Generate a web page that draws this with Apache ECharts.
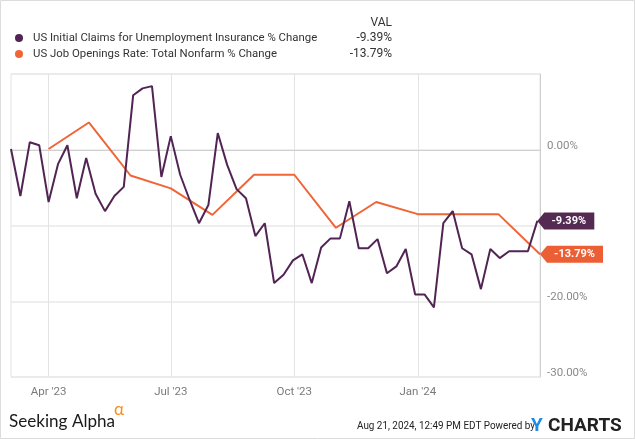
<!DOCTYPE html>
<html>
<head>
<meta charset="utf-8">
<script src="https://cdn.jsdelivr.net/npm/echarts@6/dist/echarts.min.js"></script>
<style>html,body{margin:0;padding:0;background:#fff}#c{width:635px;height:439px}</style>
</head>
<body>
<div id="c"></div>
<script>
const claimsName = 'US Initial Claims for Unemployment Insurance % Change';
const openingsName = 'US Job Openings Rate: Total Nonfarm % Change';

const claimsDates = [
 '2023-03-04','2023-03-11','2023-03-18','2023-03-25',
 '2023-04-01','2023-04-08','2023-04-15','2023-04-22','2023-04-29',
 '2023-05-06','2023-05-13','2023-05-20','2023-05-27',
 '2023-06-03','2023-06-10','2023-06-17','2023-06-24',
 '2023-07-01','2023-07-08','2023-07-15','2023-07-22','2023-07-29',
 '2023-08-05','2023-08-12','2023-08-19','2023-08-26',
 '2023-09-02','2023-09-09','2023-09-16','2023-09-23','2023-09-30',
 '2023-10-07','2023-10-14','2023-10-21','2023-10-28',
 '2023-11-04','2023-11-11','2023-11-18','2023-11-25',
 '2023-12-02','2023-12-09','2023-12-16','2023-12-23','2023-12-30',
 '2024-01-06','2024-01-13','2024-01-20','2024-01-27',
 '2024-02-03','2024-02-10','2024-02-17','2024-02-24',
 '2024-03-02','2024-03-09','2024-03-16','2024-03-23','2024-03-30'
];
const claimsValues = [
 0.1, -6.1, 1.0, 0.6,
 -6.9, -1.9, 0.6, -6.4, -1.1,
 -5.8, -8.1, -6.1, -4.9,
 7.2, 8.1, 8.4, -3.6,
 1.8, -3.3, -6.6, -9.7, -7.3,
 2.2, -2.0, -5.2, -6.4,
 -11.4, -9.7, -17.6, -16.5, -14.6,
 -13.8, -17.6, -12.9, -11.7,
 -11.7, -6.8, -13.0, -13.0,
 -11.8, -16.3, -15.4, -13.1, -19.1,
 -19.1, -20.8, -9.7, -8.1,
 -13.0, -13.8, -18.4, -13.1,
 -14.3, -13.4, -13.4, -13.4, -9.39
];

const openingsDates = [
 '2023-04-01','2023-05-01','2023-06-01','2023-07-01','2023-08-01','2023-09-01',
 '2023-10-01','2023-11-01','2023-12-01','2024-01-01','2024-02-01','2024-03-01','2024-04-01'
];
const openingsValues = [0.1, 3.6, -3.4, -5.1, -8.6, -3.3, -3.3, -10.3, -6.9, -8.5, -8.5, -8.5, -13.79];

const xTickDates = ['2023-04-01','2023-07-01','2023-10-01','2024-01-01'];
const xTickLabels = ["Apr '23", "Jul '23", "Oct '23", "Jan '24"];
const xRange = ['2023-03-04', '2024-04-01'];
const yTicks = [10, 0, -10, -20, -30];
const yTickLabels = ['', '0.00%', '', '-20.00%', '-30.00%'];

const claimsColor = '#512453';
const openingsColor = '#ef6536';

const ts = d => Date.UTC(+d.slice(0, 4), +d.slice(5, 7) - 1, +d.slice(8, 10));
const tickTs = xTickDates.map(ts);

const chart = echarts.init(document.getElementById('c'), null, {renderer: 'canvas'});

function tag(dates, values, color, w) {
  const n = values.length - 1;
  return {
    symbol: 'path://M0,8.5L7,0L' + w + ',0L' + w + ',17L7,17Z',
    symbolSize: [w, 17],
    symbolOffset: [w / 2, 0],
    silent: true,
    itemStyle: {color: color},
    label: {
      show: true, position: 'inside', offset: [3, 0],
      color: '#fff', fontWeight: 'bold', fontSize: 11, fontFamily: 'Roboto',
      formatter: p => p.value.toFixed(2) + '%'
    },
    data: [{coord: [ts(dates[n]), values[n]], value: values[n]}]
  };
}

const option = {
  animation: false,
  backgroundColor: '#fff',
  textStyle: {fontFamily: 'Roboto'},
  grid: {left: 11, right: 95, top: 74, bottom: 62, show: true, borderColor: '#e3e3e3', borderWidth: 1},
  legend: {
    left: 15, top: 31, orient: 'vertical', padding: 0, itemGap: 2,
    itemWidth: 10, itemHeight: 8, icon: 'circle', selectedMode: false,
    textStyle: {fontSize: 11.4, color: '#333', padding: [0, 0, 0, 4], fontFamily: 'Roboto', lineHeight: 14},
    data: [claimsName, openingsName]
  },
  xAxis: {
    type: 'value',
    min: ts(xRange[0]), max: ts(xRange[1]),
    axisLine: {show: true, lineStyle: {color: '#d0d0d0'}},
    axisTick: {show: false, customValues: tickTs},
    axisLabel: {
      customValues: tickTs, color: '#7a7a7a', fontSize: 11.5, margin: 9,
      showMinLabel: true, showMaxLabel: true,
      formatter: v => { const i = tickTs.indexOf(v); return i >= 0 ? xTickLabels[i] : ''; }
    },
    splitLine: {show: true, lineStyle: {color: '#e3e3e3', width: 1}}
  },
  yAxis: {
    type: 'value', position: 'right',
    min: -30, max: 10, interval: 10,
    axisLine: {show: true, lineStyle: {color: '#cfcfcf'}},
    axisTick: {show: false},
    axisLabel: {
      color: '#8a8a8a', fontSize: 11.5, margin: 7, verticalAlign: 'bottom', lineHeight: 8,
      formatter: v => { const i = yTicks.indexOf(v); return i >= 0 ? yTickLabels[i] : ''; }
    },
    splitLine: {show: true, lineStyle: {color: '#e8e8e8', width: 1.5}}
  },
  series: [
    {
      name: claimsName, type: 'line', showSymbol: false, z: 3,
      itemStyle: {color: claimsColor},
      lineStyle: {color: claimsColor, width: 2},
      data: claimsDates.map((d, i) => [ts(d), claimsValues[i]]),
      markPoint: tag(claimsDates, claimsValues, '#552a52', 57)
    },
    {
      name: openingsName, type: 'line', showSymbol: false, z: 2,
      itemStyle: {color: openingsColor},
      lineStyle: {color: openingsColor, width: 2},
      data: openingsDates.map((d, i) => [ts(d), openingsValues[i]]),
      markPoint: tag(openingsDates, openingsValues, '#ec5f34', 63)
    }
  ],
  graphic: [
    {type: 'rect', shape: {x: 0.5, y: 0.5, width: 634, height: 438}, style: {fill: 'none', stroke: '#dcdcdc', lineWidth: 1}, silent: true},
    {type: 'text', x: 392, y: 23, style: {text: 'VAL', align: 'right', verticalAlign: 'middle', fontSize: 12, fill: '#333', fontFamily: 'Roboto'}},
    {type: 'text', x: 392, y: 38, style: {text: claimsValues[claimsValues.length - 1].toFixed(2) + '%', align: 'right', verticalAlign: 'middle', fontSize: 12, fill: '#333', fontFamily: 'Roboto'}},
    {type: 'text', x: 392, y: 54, style: {text: openingsValues[openingsValues.length - 1].toFixed(2) + '%', align: 'right', verticalAlign: 'middle', fontSize: 12, fill: '#333', fontFamily: 'Roboto'}},
    {type: 'text', x: 9, y: 421, scaleX: 0.95, style: {text: 'Seeking Alpha', verticalAlign: 'middle', fontSize: 18, fill: '#1a1a1a', fontFamily: 'Lato'}},
    {type: 'text', x: 114, y: 410, style: {text: 'α', verticalAlign: 'middle', fontSize: 17, fill: '#ff8a1c', fontFamily: 'Lato'}},
    {type: 'text', x: 357, y: 426, scaleX: 0.86, style: {text: 'Aug 21, 2024, 12:49 PM EDT Powered by', verticalAlign: 'middle', fontSize: 11.5, fill: '#222', fontFamily: 'Roboto'}},
    {type: 'text', x: 531, y: 426, style: {text: 'Y', verticalAlign: 'middle', fontSize: 19, fontWeight: 'bold', fill: '#1b8be6', fontFamily: 'Roboto'}},
    {type: 'text', x: 548, y: 426, style: {text: 'CHARTS', verticalAlign: 'middle', fontSize: 19, fontWeight: 'bold', fill: '#222', fontFamily: 'Roboto'}}
  ]
};
chart.setOption(option);
</script>
</body>
</html>
